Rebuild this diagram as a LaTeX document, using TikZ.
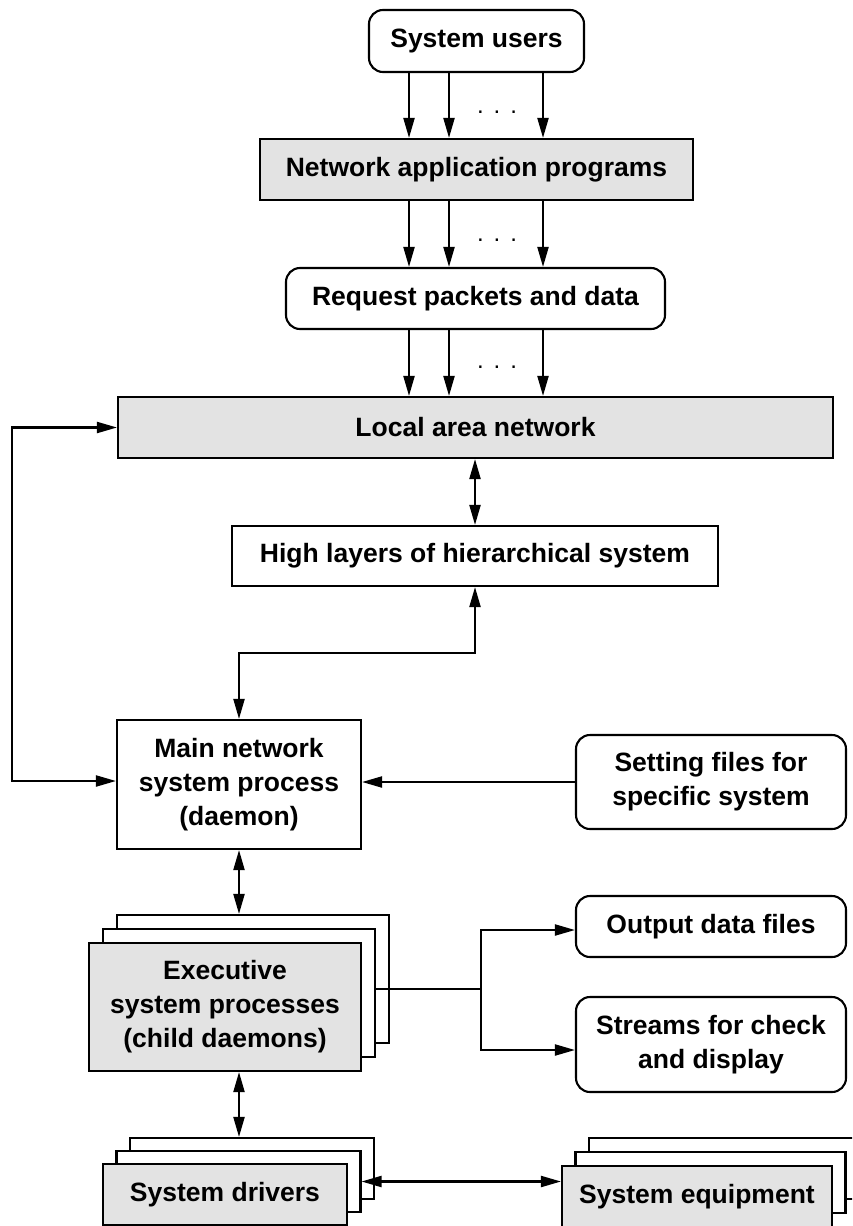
\documentclass[tikz,border=0pt]{standalone}
\usepackage{fontspec}
\setmainfont{Liberation Sans}
\usetikzlibrary{arrows.meta}

\begin{document}
\begin{tikzpicture}[x=1pt, y=-1pt,
    every node/.style={draw, line width=2.1pt, align=center, inner sep=0pt, fill=white,
        font=\fontsize{26.5}{34}\selectfont\bfseries},
    rbox/.style={rounded corners=14pt},
    grey/.style={fill=gray!22},
    link/.style={line width=2.1pt, -{Triangle[length=20pt,width=11pt]}},
    twoway/.style={line width=2.1pt, {Triangle[length=20pt,width=11pt]}-{Triangle[length=20pt,width=11pt]}},
    etc/.style={draw=none, fill=none, font=\fontsize{24}{24}\selectfont}]
    \useasboundingbox (0,0) rectangle (852,1226);
    \clip (0,0) rectangle (852,1226);

    \node[rbox, minimum width=215pt, minimum height=62pt] (users) at (476.5,41) {System users};
    \node[grey, minimum width=433pt, minimum height=61pt] (apps) at (476.5,169.5) {Network application programs};
    \node[rbox, minimum width=379pt, minimum height=61pt] (req) at (475.5,298.5) {Request packets and data};
    \node[grey, minimum width=715pt, minimum height=61pt] (lan) at (475.5,427.5) {Local area network};
    \node[minimum width=486pt, minimum height=60pt] (high) at (475,556) {High layers of hierarchical system};
    \node[minimum width=244pt, minimum height=129pt] (main) at (239,784.5) {Main network\\system process\\(daemon)};
    \node[rbox, minimum width=270pt, minimum height=94pt] (setting) at (711,782) {Setting files for\\specific system};
    \node[rbox, minimum width=270pt, minimum height=61pt] (outfiles) at (711,926.5) {Output data files};
    \node[rbox, minimum width=270pt, minimum height=95pt] (streams) at (711,1044.5) {Streams for check\\and display};

    % stacked copies behind the front boxes
    \foreach \k in {2,1}{
        \node[minimum width=272pt, minimum height=128pt] (exec\k) at (225+14*\k,1007-14*\k) {};
        \node[minimum width=244pt, minimum height=61pt] (drv\k) at (225+13.5*\k,1194.5-13*\k) {};
        \node[minimum width=270pt, minimum height=61pt] (equip\k) at (697+13.5*\k,1196.5-14*\k) {};
    }
    \node[grey, minimum width=272pt, minimum height=128pt] (exec0) at (225,1007) {Executive\\system processes\\(child daemons)};
    \node[grey, minimum width=244pt, minimum height=61pt] (drv0) at (225,1194.5) {System drivers};
    \node[grey, minimum width=270pt, minimum height=61pt] (equip0) at (697,1196.5) {System equipment};

    \foreach \dx in {-67.5,-27.5,66.5}{
        \draw[link] ([xshift=\dx pt]users.south) -- ([xshift=\dx pt]users.south |- apps.north);
        \draw[link] ([xshift=\dx pt]apps.south) -- ([xshift=\dx pt]apps.south |- req.north);
        \draw[link] ([xshift=\dx pt]apps.south |- req.south) -- ([xshift=\dx pt]apps.south |- lan.north);
    }
    \foreach \y/\n in {112/a,240/b,367/c}
        \node[etc] (dots\n) at (497,\y) {.\hspace{10pt}.\hspace{10pt}.};

    \coordinate (loop) at (12,0);
    \coordinate (mh) at (0,653);
    \coordinate (split) at (481,989);

    \draw[twoway] (high.north |- lan.south) -- (high.north);
    \draw[twoway] (main.north) -- (main.north |- mh) -| (high.south);
    \draw[twoway] (lan.west) -- (lan.west -| loop) |- ([yshift=3.5pt]main.west);
    \draw[link] (setting.west) -- (setting.west -| main.east);
    \draw[twoway] (main.south) -- (main.south |- exec2.north);
    \draw[twoway] (main.south |- exec0.south) -- (main.south |- drv2.north);
    \draw[line width=2.1pt] (exec1.east |- split) -- (split);
    \draw[link] (split) |- ([yshift=-3.5pt]outfiles.west);
    \draw[link] (split) |- ([yshift=-5.5pt]streams.west);
    \draw[twoway] (drv1.east) -- (drv1.east -| equip0.west);
\end{tikzpicture}
\end{document}
